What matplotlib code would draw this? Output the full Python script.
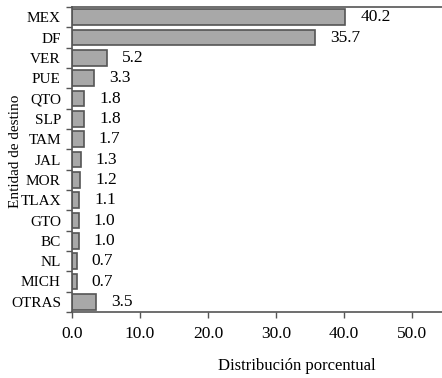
import numpy as np
import matplotlib.pyplot as plt

estados = ['MEX', 'DF', 'VER', 'PUE', 'QTO', 'SLP', 'TAM', 'JAL', 'MOR',
           'TLAX', 'GTO', 'BC', 'NL', 'MICH', 'OTRAS']
porcentajes = [40.2, 35.7, 5.2, 3.3, 1.8, 1.8, 1.7, 1.3, 1.2, 1.1, 1.0, 1.0, 0.7, 0.7, 3.5]
xticks = [0, 10, 20, 30, 40, 50]

plt.rcParams['font.family'] = ['Liberation Serif', 'DejaVu Serif']

fig = plt.figure(figsize=(4.42, 3.78), dpi=100)
ax = fig.add_axes([72/442, 66/378, 1 - 72/442, 305/378])

y = np.arange(len(estados))
ax.barh(y, porcentajes, height=0.78, color='#a8a8a8', edgecolor='#555555', linewidth=1.2)
for yi, v in zip(y, porcentajes):
    ax.text(v + 2.2, yi, f'{v:.1f}', va='center', ha='left', fontsize=12.5)

ax.set_ylim(len(estados) - 0.5, -0.5)
ax.set_xlim(0, 54.4)
ax.set_yticks(y)
ax.set_yticklabels(estados, fontsize=11)
ax.set_yticks(np.arange(len(estados) + 1) - 0.5, minor=True)
ax.tick_params(axis='y', which='major', length=0, pad=8)
ax.tick_params(axis='y', which='minor', length=4, direction='out', width=1, color='#555555')
ax.set_xticks(xticks)
ax.set_xticklabels([f'{t:.1f}' for t in xticks], fontsize=12.5)
ax.tick_params(axis='x', length=4, width=1, color='#555555', pad=6)

for s in ['left', 'bottom', 'top']:
    ax.spines[s].set_color('#555555')
    ax.spines[s].set_linewidth(1.2)
ax.spines['right'].set_visible(False)

fig.text(16/442, 1 - 151/378, 'Entidad de destino', rotation=90, ha='center', va='center', fontsize=11)
fig.text(297/442, 1 - 366/378, 'Distribución porcentual', ha='center', va='center', fontsize=12)

fig.savefig('out.png', dpi=100)
